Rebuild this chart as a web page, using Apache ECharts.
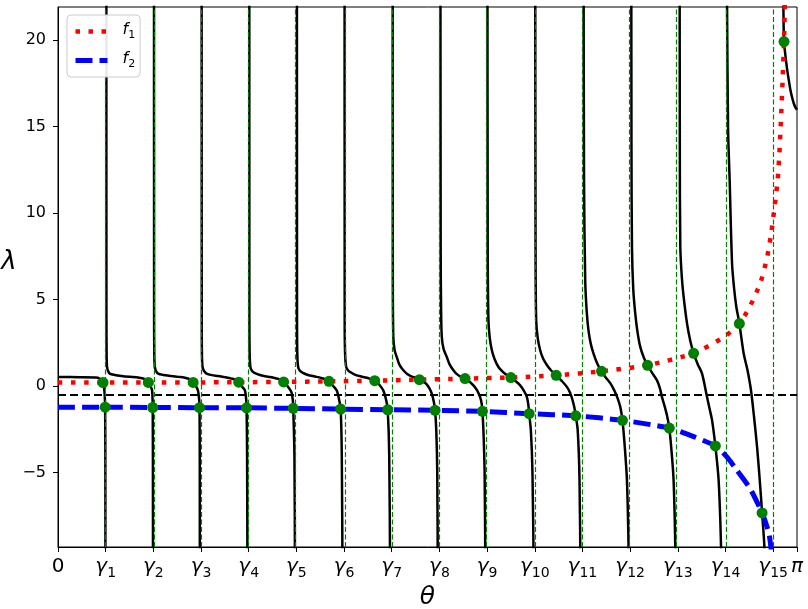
<!DOCTYPE html>
<html>
<head>
<meta charset="utf-8">
<script src="https://cdn.jsdelivr.net/npm/echarts@6/dist/echarts.min.js"></script>
<style>
  html, body { margin: 0; padding: 0; background: #fff; }
  #chart { width: 808px; height: 609px; }
</style>
</head>
<body>
<div id="chart"></div>
<script>
// tick positions and labels
const gammas = [0.2027, 0.4054, 0.6081, 0.8107, 1.0134, 1.2161, 1.4188, 1.6215,
  1.8242, 2.0268, 2.2295, 2.4322, 2.6349, 2.8376, 3.0403];
const thetaTicks = [0].concat(gammas, [Math.PI]);
const thetaTickLabels = ['0', 'γ1', 'γ2', 'γ3', 'γ4', 'γ5', 'γ6', 'γ7', 'γ8', 'γ9',
  'γ10', 'γ11', 'γ12', 'γ13', 'γ14', 'γ15', 'π'];
const lambdaTicks = [-5, 0, 5, 10, 15, 20];
const threshold = -0.5;

// black branches
const branch0 = [[0,0.52],[0.0923,0.51],[0.1634,0.49],[0.1796,0.40],[0.1915,0.20],[0.1970,-0.25],[0.1996,-0.83],[0.2004,-1.22],[0.2013,-4],[0.2017,-12]];
const branch1 = [[0.2055,30],[0.2060,3.8],[0.2068,1.8],[0.2085,1.1],[0.2128,0.87],[0.2200,0.72],[0.2413,0.64],[0.2698,0.58],[0.3051,0.53],[0.3404,0.49],[0.3668,0.42],[0.3838,0.21],[0.3945,-0.05],[0.4000,-0.25],[0.4021,-0.83],[0.4026,-1.24],[0.4034,-4],[0.4038,-12]];
const branch2 = [[0.4081,30],[0.4085,3.8],[0.4094,1.8],[0.4115,1.1],[0.4166,0.87],[0.4255,0.72],[0.4477,0.64],[0.4826,0.58],[0.5115,0.53],[0.5391,0.48],[0.5591,0.40],[0.5745,0.21],[0.5881,-0.05],[0.5957,-0.30],[0.6004,-0.83],[0.6017,-1.25],[0.6026,-4],[0.6030,-12]];
const branch3 = [[0.6106,30],[0.6111,3.8],[0.6119,1.8],[0.6145,1.1],[0.6209,0.87],[0.6315,0.72],[0.6540,0.63],[0.6809,0.58],[0.7094,0.51],[0.7379,0.43],[0.7553,0.36],[0.7681,0.22],[0.7838,-0.05],[0.7945,-0.25],[0.8004,-0.83],[0.8017,-1.26],[0.8038,-4],[0.8055,-12]];
const branch4 = [[0.8132,30],[0.8136,3.8],[0.8149,1.8],[0.8179,1.1],[0.8243,0.88],[0.8349,0.76],[0.8583,0.64],[0.8868,0.55],[0.9136,0.49],[0.9370,0.41],[0.9591,0.24],[0.9753,0.0],[0.9923,-0.35],[0.9983,-0.83],[1.0000,-1.29],[1.0051,-4],[1.0077,-12]];
const branch5 = [[1.0157,30],[1.0162,3.8],[1.0174,1.8],[1.0209,1.1],[1.0277,0.9],[1.0391,0.78],[1.0626,0.64],[1.0923,0.55],[1.1179,0.47],[1.1370,0.39],[1.1519,0.27],[1.1689,0.02],[1.1847,-0.25],[1.1957,-0.83],[1.2017,-1.33],[1.2064,-4],[1.2098,-12]];
const branch6 = [[1.2183,30],[1.2187,3.8],[1.2204,1.9],[1.2251,1.1],[1.2336,0.9],[1.2434,0.8],[1.2668,0.63],[1.2923,0.54],[1.3200,0.45],[1.3464,0.31],[1.3668,0.06],[1.3830,-0.26],[1.3953,-0.83],[1.4017,-1.37],[1.4081,-4],[1.4123,-12]];
const branch7 = [[1.4226,30],[1.4234,6],[1.4255,2.85],[1.4306,2.1],[1.4400,1.68],[1.4519,1.22],[1.4681,0.91],[1.4860,0.68],[1.5038,0.55],[1.5200,0.47],[1.5362,0.37],[1.5540,0.24],[1.5677,0.10],[1.5796,-0.15],[1.5889,-0.44],[1.5974,-0.9],[1.6030,-1.40],[1.6081,-2.56],[1.6123,-5],[1.6149,-12]];
const branch8 = [[1.6255,30],[1.6268,8],[1.6285,4.5],[1.6315,2.85],[1.6391,2.15],[1.6528,1.68],[1.6647,1.25],[1.6809,0.91],[1.6945,0.70],[1.7094,0.56],[1.7306,0.43],[1.7498,0.25],[1.7660,0.04],[1.7817,-0.25],[1.7945,-0.64],[1.8009,-1.0],[1.8043,-1.46],[1.8085,-2.56],[1.8136,-5],[1.8174,-12]];
const branch9 = [[1.8255,30],[1.8268,8],[1.8298,3.81],[1.8353,2.8],[1.8443,2.07],[1.8562,1.55],[1.8723,1.10],[1.8923,0.80],[1.9094,0.62],[1.9251,0.49],[1.9455,0.28],[1.9647,0.04],[1.9809,-0.28],[1.9932,-0.63],[1.9996,-1.1],[2.0030,-1.60],[2.0102,-2.56],[2.0170,-5],[2.0234,-12]];
const branch10 = [[2.0285,30],[2.0302,8],[2.0328,3.8],[2.0396,2.75],[2.0498,2.07],[2.0626,1.58],[2.0783,1.22],[2.0966,0.90],[2.1179,0.62],[2.1413,0.30],[2.1634,-0.05],[2.1774,-0.40],[2.1860,-0.75],[2.1945,-1.2],[2.2009,-1.72],[2.2094,-2.56],[2.2170,-5.4],[2.2217,-12]];
const branch11 = [[2.2340,30],[2.2362,12],[2.2413,6.1],[2.2477,4.3],[2.2553,3.2],[2.2647,2.45],[2.2766,1.87],[2.2923,1.30],[2.3106,0.85],[2.3285,0.50],[2.3477,0.17],[2.3647,-0.25],[2.3787,-0.70],[2.3902,-1.2],[2.3996,-1.98],[2.4094,-3.5],[2.4187,-5.46],[2.4255,-9.3],[2.4272,-12]];
const branch12 = [[2.4370,30],[2.4379,14],[2.4400,8.05],[2.4455,5.6],[2.4540,4.19],[2.4638,3.1],[2.4753,2.26],[2.4902,1.65],[2.5064,1.20],[2.5264,0.75],[2.5464,0.33],[2.5583,-0.1],[2.5677,-0.64],[2.5796,-1.2],[2.5889,-1.7],[2.5987,-2.43],[2.6085,-3.8],[2.6170,-5.46],[2.6243,-9.3],[2.6260,-12]];
const branch13 = [[2.6426,30],[2.6434,14],[2.6455,8.05],[2.6519,6.3],[2.6596,5.16],[2.6740,3.62],[2.6881,2.6],[2.7021,1.89],[2.7200,1.25],[2.7379,0.72],[2.7591,-0.63],[2.7698,-1.3],[2.7804,-1.97],[2.7945,-3.46],[2.8085,-5.46],[2.8187,-9.3],[2.8209,-12]];
const branch14 = [[2.8430,25],[2.8443,21.9],[2.8485,14.9],[2.8553,11.9],[2.8655,7.08],[2.8745,5.6],[2.8838,4.57],[2.8966,3.61],[2.9149,1.88],[2.9306,0.95],[2.9455,-0.2],[2.9583,-1.7],[2.9719,-3.53],[2.9830,-5.4],[2.9932,-7.33],[3.0030,-9.32],[3.0055,-12]];
const branch15 = [[3.0830,25],[3.0838,21.9],[3.0864,19.9],[3.0923,19.1],[3.0996,18.3],[3.1064,17.7],[3.1136,17.11],[3.1209,16.67],[3.1277,16.34],[3.1349,16.1],[3.1416,15.96]];
const branches = [branch0, branch1, branch2, branch3, branch4, branch5, branch6, branch7,
  branch8, branch9, branch10, branch11, branch12, branch13, branch14, branch15];

// f1 and f2
const f1 = [[0,0.20],[0.1915,0.20],[0.3838,0.21],[0.5745,0.21],[0.7681,0.22],[0.9591,0.24],[1.1519,0.27],[1.3464,0.31],[1.5362,0.37],[1.7306,0.43],[1.9251,0.49],[2.1179,0.62],[2.3106,0.85],[2.5064,1.20],[2.7021,1.89],[2.8328,2.84],[2.8966,3.61],[2.9404,4.57],[2.9860,5.96],[3.0145,7.43],[3.0328,8.91],[3.0468,10.42],[3.0596,11.94],[3.0668,13.45],[3.0719,14.9],[3.0766,16.4],[3.0813,18.0],[3.0864,19.9],[3.0894,21.8],[3.0919,24]];
const f2 = [[0,-1.22],[0.2004,-1.22],[0.4026,-1.24],[0.6017,-1.25],[0.8017,-1.26],[1.0000,-1.29],[1.2017,-1.33],[1.4017,-1.37],[1.6030,-1.40],[1.8043,-1.46],[2.0030,-1.60],[2.2009,-1.72],[2.3996,-1.98],[2.5987,-2.43],[2.7021,-2.92],[2.7945,-3.46],[2.8443,-4.11],[2.8868,-4.88],[2.9434,-5.95],[2.9932,-7.33],[3.0213,-8.45],[3.0306,-9.3],[3.0391,-10.5]];

// intersections
const f1Dots = [[0.1915,0.20],[0.3838,0.21],[0.5745,0.21],[0.7681,0.22],[0.9591,0.24],[1.1519,0.27],[1.3464,0.31],[1.5362,0.37],[1.7306,0.43],[1.9251,0.49],[2.1179,0.62],[2.3106,0.85],[2.5064,1.20],[2.7021,1.89],[2.8966,3.61],[3.0864,19.9]];
const f2Dots = [[0.2004,-1.22],[0.4026,-1.24],[0.6017,-1.25],[0.8017,-1.26],[1.0000,-1.29],[1.2017,-1.33],[1.4017,-1.37],[1.6030,-1.40],[1.8043,-1.46],[2.0030,-1.60],[2.2009,-1.72],[2.3996,-1.98],[2.5987,-2.43],[2.7945,-3.46],[2.9932,-7.33]];

const FONT = 'DejaVu Sans';
const chart = echarts.init(document.getElementById('chart'), null, { renderer: 'canvas' });

const series = branches.map(function (b) {
  return {
    type: 'line',
    data: b,
    symbol: 'none',
    smooth: 0.3,
    silent: true,
    z: 2,
    lineStyle: { color: '#000', width: 2.5 }
  };
});

// green verticals at gamma_k and black dashed level
series.push({
  type: 'line',
  data: [],
  silent: true,
  z: 3,
  markLine: {
    silent: true,
    symbol: 'none',
    label: { show: false },
    animation: false,
    data: [{
      yAxis: threshold,
      lineStyle: { color: '#000', width: 2, type: [8, 4] }
    }].concat(gammas.map(function (g) {
      return { xAxis: g, lineStyle: { color: '#008000', width: 1.2, type: [5, 2.5] } };
    }))
  }
});

series.push({
  name: 'f1',
  type: 'line',
  data: f1,
  symbol: 'none',
  smooth: 0.2,
  silent: true,
  z: 5,
  itemStyle: { color: '#ff0000' },
  lineStyle: { color: '#ff0000', width: 4.5, type: [4.5, 8.5], cap: 'butt' }
});
series.push({
  name: 'f2',
  type: 'line',
  data: f2,
  symbol: 'none',
  smooth: 0.2,
  silent: true,
  z: 6,
  itemStyle: { color: '#0000ff' },
  lineStyle: { color: '#0000ff', width: 5, type: [17, 7], cap: 'butt' }
});
series.push({
  type: 'scatter',
  data: f1Dots.concat(f2Dots),
  symbol: 'circle',
  symbolSize: 11,
  silent: true,
  z: 10,
  itemStyle: { color: '#008000', opacity: 1 }
});

const option = {
  animation: false,
  backgroundColor: '#fff',
  grid: {
    left: 58, right: 11, top: 7, bottom: 62,
    outerBoundsMode: 'none',
    containLabel: false,
    show: true, borderColor: '#000', borderWidth: 1, backgroundColor: 'transparent'
  },
  legend: {
    data: ['f1', 'f2'],
    orient: 'vertical',
    left: 67,
    top: 15,
    z: 20,
    padding: [7, 5, 7, 6],
    itemGap: 10,
    itemWidth: 32,
    itemHeight: 14,
    backgroundColor: 'rgba(255,255,255,0.9)',
    borderColor: '#cccccc',
    borderWidth: 1,
    borderRadius: 4,
    selectedMode: false,
    itemStyle: { opacity: 0 },
    lineStyle: { width: 'inherit', type: 'inherit' },
    formatter: function (name) {
      return '{i|f}{s|' + name.slice(1) + '}';
    },
    textStyle: {
      fontFamily: FONT,
      fontSize: 16,
      color: '#000',
      rich: {
        i: { fontFamily: FONT, fontSize: 16, fontStyle: 'italic', color: '#000', verticalAlign: 'bottom', padding: [0, 0, 3, 10] },
        s: { fontFamily: FONT, fontSize: 11, color: '#000', verticalAlign: 'bottom' }
      }
    }
  },
  xAxis: {
    type: 'value',
    min: 0,
    max: Math.PI,
    name: 'θ',
    nameLocation: 'middle',
    nameGap: 38,
    nameTextStyle: { fontFamily: FONT, fontSize: 25, fontStyle: 'italic', color: '#000' },
    splitLine: { show: false },
    axisLine: { show: true, onZero: false, lineStyle: { color: '#000', width: 1 } },
    axisTick: { show: true, customValues: thetaTicks, length: 5, lineStyle: { color: '#000', width: 1 } },
    axisLabel: {
      customValues: thetaTicks,
      showMinLabel: true,
      showMaxLabel: true,
      margin: 10,
      color: '#000',
      fontFamily: FONT,
      fontSize: 20,
      formatter: function (v) {
        let i = thetaTicks.findIndex(function (t) { return Math.abs(t - v) < 1e-6; });
        let lab = i >= 0 ? thetaTickLabels[i] : '';
        if (lab.charAt(0) === 'γ') return '{g|γ}{s|' + lab.slice(1) + '}';
        if (lab === 'π') return '{g|π}';
        return '{n|' + lab + '}';
      },
      rich: {
        n: { fontFamily: FONT, fontSize: 20, color: '#000', verticalAlign: 'bottom', padding: [0, 0, 3, 0] },
        g: { fontFamily: FONT, fontSize: 20, fontStyle: 'italic', color: '#000', verticalAlign: 'bottom', padding: [0, 0, 3, 0] },
        s: { fontFamily: FONT, fontSize: 14, color: '#000', verticalAlign: 'bottom' }
      }
    }
  },
  yAxis: {
    type: 'value',
    min: -9.3,
    max: 21.9,
    name: 'λ',
    nameLocation: 'middle',
    nameRotate: 0,
    nameGap: 5,
    nameTextStyle: { fontFamily: FONT, fontSize: 26, fontStyle: 'italic', color: '#000', verticalAlign: 'bottom', lineHeight: 30 },
    splitLine: { show: false },
    axisLine: { show: true, onZero: false, lineStyle: { color: '#000', width: 1 } },
    axisTick: { show: true, customValues: lambdaTicks, length: 5, lineStyle: { color: '#000', width: 1 } },
    axisLabel: {
      customValues: lambdaTicks,
      margin: 12,
      color: '#000',
      fontFamily: FONT,
      fontSize: 16,
      formatter: function (v) { return String(v).replace('-', '\u2212'); }
    }
  },
  series: series
};

chart.setOption(option);
</script>
</body>
</html>
